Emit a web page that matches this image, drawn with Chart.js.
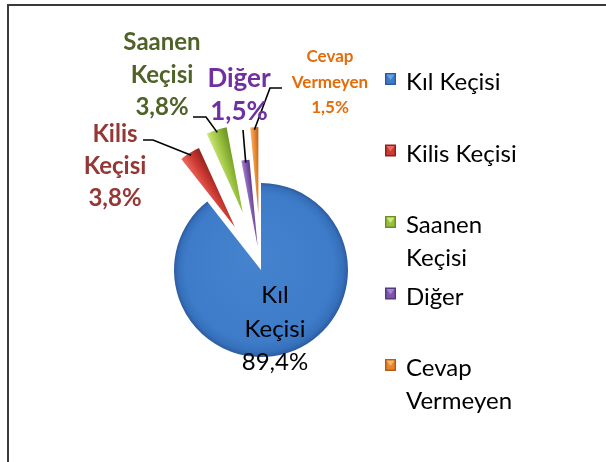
<!DOCTYPE html>
<html>
<head>
<meta charset="utf-8">
<script src="https://cdn.jsdelivr.net/npm/chart.js@4"></script>
<style>
  html, body { margin: 0; padding: 0; background: #fff; }
  #wrap { position: relative; width: 606px; height: 462px; overflow: hidden; }
  #frame { position: absolute; left: 7px; top: 4px; width: 700px; height: 600px;
           border-top: 2px solid #3a3a3a; border-left: 2px solid #3a3a3a; }
  canvas { position: absolute; left: 0; top: 0; }
</style>
</head>
<body>
<div id="wrap">
  <div id="frame"></div>
  <canvas id="pie" width="606" height="462"></canvas>
</div>
<script>
// data
const categories = ['Kıl Keçisi', 'Kilis Keçisi', 'Saanen Keçisi', 'Diğer', 'Cevap Vermeyen'];
const values = [89.4, 3.8, 3.8, 1.5, 1.5];

// styles
const baseColors = ['#3e7cc9', '#cc3a32', '#98c03e', '#7d56aa', '#e8862e'];
const lightColors = ['#4583cf', '#ee6a60', '#cfe87a', '#a885d2', '#f8b466'];
const darkColors = ['#2c5ca0', '#8f211c', '#6a8f22', '#553880', '#b35d14'];
const explode = [0, 50, 60, 24, 56];
const labelColors = ['#000000', '#953735', '#4f6228', '#7030a0', '#e46c0a'];
const labelFont = [[24, 'normal'], [24, 'bold'], [24, 'bold'], [26, 'bold'], [17, 'bold']];
const labelAt = [[275, 303, 33.5], [115, 142, 32], [162, 50, 32.5], [239, 87, 33], [330, 62, 25.5]];
const leaderAt = [null, [[143, 140], [153, 140]], [[193, 117], [206, 117]], [[243, 130]], [[282, 88], [270, 88]]];
const FONT = 'Lato, "Open Sans", sans-serif';

function pct(v) {
  return v.toFixed(1).replace('.', ',') + '%';
}

// where a slice ends up once pulled out
function sliceGeom(chart, i) {
  const area = chart.chartArea;
  const cx = (area.left + area.right) / 2;
  const cy = (area.top + area.bottom) / 2;
  const total = values.reduce((a, b) => a + b, 0);
  let start = -Math.PI / 2;
  for (let k = 0; k < i; k++) start += values[k] / total * Math.PI * 2;
  const end = start + values[i] / total * Math.PI * 2;
  const mid = (start + end) / 2;
  return { x: cx + Math.cos(mid) * explode[i], y: cy + Math.sin(mid) * explode[i], start, end, mid };
}

function sliceFill(context) {
  const chart = context.chart;
  const i = context.dataIndex;
  if (!chart.chartArea || i === undefined) return baseColors[i] || baseColors[0];
  const g = sliceGeom(chart, i);
  const r = 87;
  const ctx = chart.ctx;
  if (i === 0) {
    const grad = ctx.createRadialGradient(g.x - 10, g.y - 15, 0, g.x, g.y, r);
    grad.addColorStop(0, lightColors[0]);
    grad.addColorStop(0.85, baseColors[0]);
    grad.addColorStop(0.95, '#3670bb');
    grad.addColorStop(1, darkColors[0]);
    return grad;
  }
  const x0 = g.x + Math.cos(g.start) * r, y0 = g.y + Math.sin(g.start) * r;
  const x1 = g.x + Math.cos(g.end) * r, y1 = g.y + Math.sin(g.end) * r;
  const grad = ctx.createLinearGradient(x0, y0, x1, y1);
  grad.addColorStop(0, lightColors[i]);
  grad.addColorStop(0.5, baseColors[i]);
  grad.addColorStop(1, darkColors[i]);
  return grad;
}

// Start of explode plugin
const explodePlugin = {
  id: 'explode',
  beforeDatasetsDraw(chart) {
    chart.getDatasetMeta(0).data.forEach((arc, i) => {
      const g = sliceGeom(chart, i);
      arc.x = g.x;
      arc.y = g.y;
    });
  }
};
// End of explode plugin

// Start of labels plugin
const labelPlugin = {
  id: 'sliceLabels',
  afterDatasetsDraw(chart) {
    const ctx = chart.ctx;
    const arcs = chart.getDatasetMeta(0).data;
    ctx.save();
    // leader lines
    ctx.strokeStyle = '#000';
    ctx.lineWidth = 1.6;
    arcs.forEach((arc, i) => {
      if (!leaderAt[i]) return;
      const mid = (arc.startAngle + arc.endAngle) / 2;
      const rr = arc.outerRadius * 0.97;
      ctx.beginPath();
      leaderAt[i].forEach((p, k) => k === 0 ? ctx.moveTo(p[0], p[1]) : ctx.lineTo(p[0], p[1]));
      ctx.lineTo(arc.x + Math.cos(mid) * rr, arc.y + Math.sin(mid) * rr);
      ctx.stroke();
    });
    // texts
    ctx.textAlign = 'center';
    ctx.textBaseline = 'alphabetic';
    categories.forEach((name, i) => {
      const lines = name.split(' ').concat(pct(values[i]));
      ctx.font = labelFont[i][1] + ' ' + labelFont[i][0] + 'px ' + FONT;
      ctx.fillStyle = labelColors[i];
      lines.forEach((t, k) => ctx.fillText(t, labelAt[i][0], labelAt[i][1] + k * labelAt[i][2]));
    });
    ctx.restore();
  }
};
// End of labels plugin

// Start of legend plugin
const legendPlugin = {
  id: 'sideLegend',
  afterDraw(chart) {
    const ctx = chart.ctx;
    ctx.save();
    ctx.font = '24px ' + FONT;
    ctx.textAlign = 'left';
    ctx.textBaseline = 'alphabetic';
    categories.forEach((name, i) => {
      const base = 90 + i * 71.5;
      // wrap words
      const lines = [];
      name.split(' ').forEach(w => {
        const last = lines[lines.length - 1];
        if (last && ctx.measureText(last + ' ' + w).width < 120) lines[lines.length - 1] = last + ' ' + w;
        else lines.push(w);
      });
      // marker
      const mx = 385, my = base - 17, ms = 12;
      ctx.fillStyle = darkColors[i];
      ctx.fillRect(mx, my, 11, ms);
      ctx.fillStyle = baseColors[i];
      ctx.fillRect(mx + 1.5, my + 1.5, 8, ms - 3);
      ctx.fillStyle = i === 0 ? '#6aa2e6' : lightColors[i];
      ctx.beginPath();
      ctx.moveTo(mx + 1.5, my + 1.5);
      ctx.lineTo(mx + 9.5, my + 1.5);
      ctx.lineTo(mx + 5.5, my + 7);
      ctx.closePath();
      ctx.fill();
      // text
      ctx.fillStyle = '#000';
      lines.forEach((t, k) => ctx.fillText(t, 406, base + k * 33));
    });
    ctx.restore();
  }
};
// End of legend plugin

new Chart(document.getElementById('pie').getContext('2d'), {
  type: 'pie',
  data: {
    labels: categories,
    datasets: [{
      data: values,
      backgroundColor: sliceFill,
      borderWidth: 0
    }]
  },
  options: {
    responsive: false,
    animation: false,
    events: [],
    radius: 87,
    layout: { padding: { left: 0, right: 84, top: 78, bottom: 0 } },
    plugins: {
      legend: { display: false },
      tooltip: { enabled: false }
    }
  },
  plugins: [explodePlugin, labelPlugin, legendPlugin]
});
</script>
</body>
</html>
